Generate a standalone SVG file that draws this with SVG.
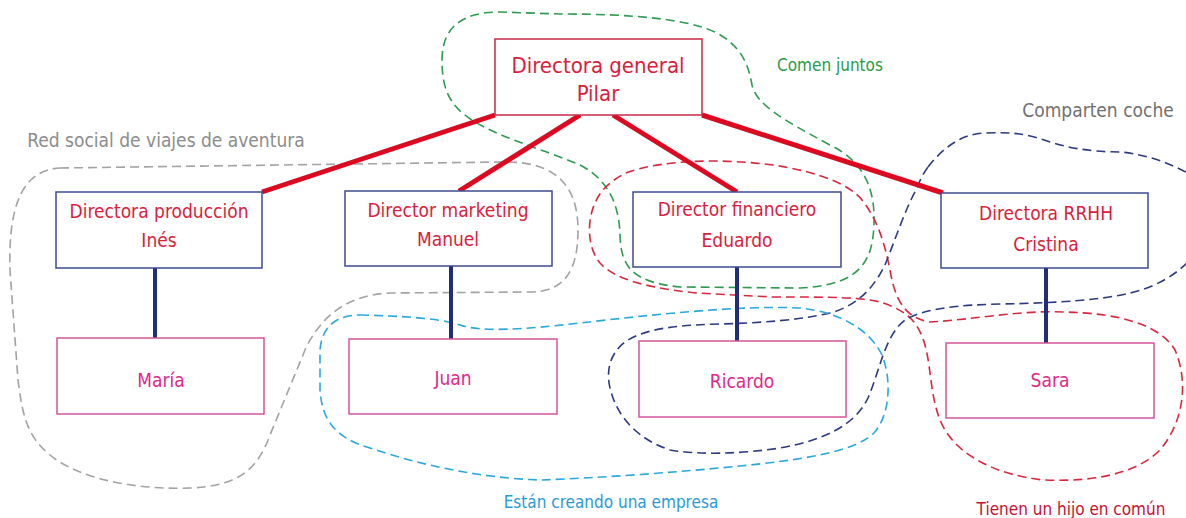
<svg xmlns="http://www.w3.org/2000/svg" width="1186" height="518" viewBox="0 0 1186 518">
<style>
text{font-family:"DejaVu Sans Condensed","Liberation Sans",sans-serif;text-anchor:middle}
.role{fill:#d81e3c;font-size:19px}
.top{fill:#d81e3c;font-size:22px}
.name{fill:#e0288a;font-size:19px}
.rbox{fill:#fff;stroke:#3d4b8e;stroke-width:1.5}
.pbox{fill:#fff;stroke:#d4559c;stroke-width:1.5}
.gbox{fill:#fff;stroke:#c82a48;stroke-width:1.5}
.red{stroke:#dc0a20;stroke-width:5;fill:none}
.navy{stroke:#1f2d7a;stroke-width:4;fill:none}
.grp{fill:none;stroke-width:1.6;stroke-dasharray:9 5}
</style>
<g id="groups">
<path class="grp" stroke="#a3a3a3" d="M60,168 L500,162 C560,160 578,190 578,230 C578,270 565,292 530,292 L390,293 C345,295 320,318 305,350 L270,435 C258,468 240,486 190,488 C140,490 80,480 50,455 C25,435 22,410 18,380 L10,270 C8,200 25,170 60,168 Z"/>
<path class="grp" stroke="#2f9a50" d="M442,60 C442,25 465,12 500,12 L560,14 C610,14 680,16 715,32 C740,45 748,62 752,85 C757,105 780,118 830,145 C865,162 875,190 874,223 C873,262 860,285 800,288 L680,287 C630,282 621,265 620,235 C619,200 605,178 580,165 C540,148 490,135 465,115 C445,100 442,80 442,60 Z"/>
<path class="grp" stroke="#d8283e" d="M626,173 C660,160 720,158 773,165 C820,172 850,185 862,200 C878,220 885,245 890,270 C895,300 905,318 930,322 C970,320 1020,310 1063,312 C1120,313 1160,325 1175,350 C1188,380 1185,420 1160,450 C1135,475 1090,482 1044,480 C995,475 960,455 945,430 C930,405 932,370 925,345 C918,320 905,310 880,302 C860,297 830,297 773,297 L696,293 C650,288 615,280 600,263 C585,245 586,210 603,190 C610,182 618,177 626,173 Z"/>
<path class="grp" stroke="#2e3a80" d="M928,167 C945,145 965,133 986,133 C1010,132 1025,133 1050,142 C1075,150 1100,152 1121,152 C1150,155 1175,165 1200,180 L1200,245 C1190,265 1165,285 1130,293 C1100,300 1060,303 1000,304 C960,305 925,308 905,320 C885,335 880,370 868,398 C855,425 825,440 780,448 C740,454 700,455 670,450 C640,440 620,420 612,395 C605,375 608,355 625,342 C645,328 680,325 720,324 C760,323 800,320 830,313 C860,305 875,285 885,265 C895,240 905,210 916,190 C920,180 924,172 928,167 Z"/>
<path class="grp" stroke="#2aa8dc" d="M360,315 C400,316 440,318 460,325 C480,332 520,330 580,323 C650,315 740,305 800,308 C840,312 870,330 882,355 C892,380 890,415 874,433 C855,452 800,460 740,466 C680,472 600,478 540,480 C480,478 420,465 370,448 C335,438 322,420 320,390 L320,350 C322,325 338,315 360,315 Z"/>
</g>
<g id="connectors">
<line class="red" x1="495" y1="115" x2="262" y2="192"/>
<line class="red" x1="580" y1="115" x2="459" y2="191"/>
<line class="red" x1="613" y1="115" x2="737" y2="192"/>
<line class="red" x1="702" y1="115" x2="943" y2="193"/>
<line class="navy" x1="155" y1="268" x2="155" y2="338"/>
<line class="navy" x1="451" y1="266" x2="451" y2="339"/>
<line class="navy" x1="737" y1="267" x2="737" y2="341"/>
<line class="navy" x1="1046" y1="268" x2="1046" y2="343"/>
</g>
<g id="pilar"><rect class="gbox" x="495" y="39" width="207" height="76"/><text class="top" x="598" y="73">Directora general</text><text class="top" x="598" y="101">Pilar</text></g>
<g id="ines"><rect class="rbox" x="56" y="192" width="206" height="76"/><text class="role" x="159" y="218">Directora producción</text><text class="role" x="159" y="247">Inés</text></g>
<g id="manuel"><rect class="rbox" x="345" y="191" width="207" height="75"/><text class="role" x="448" y="217">Director marketing</text><text class="role" x="448" y="246">Manuel</text></g>
<g id="eduardo"><rect class="rbox" x="633" y="192" width="208" height="75"/><text class="role" x="737" y="216">Director financiero</text><text class="role" x="737" y="247">Eduardo</text></g>
<g id="cristina"><rect class="rbox" x="941" y="193" width="207" height="75"/><text class="role" x="1046" y="220">Directora RRHH</text><text class="role" x="1046" y="251">Cristina</text></g>
<g id="maria"><rect class="pbox" x="57" y="338" width="207" height="76"/><text class="name" x="161" y="387">María</text></g>
<g id="juan"><rect class="pbox" x="349" y="339" width="208" height="75"/><text class="name" x="453" y="385">Juan</text></g>
<g id="ricardo"><rect class="pbox" x="639" y="341" width="207" height="76"/><text class="name" x="742" y="388">Ricardo</text></g>
<g id="sara"><rect class="pbox" x="946" y="343" width="208" height="75"/><text class="name" x="1050" y="387">Sara</text></g>
<g id="labels">
<text x="166" y="147" style="fill:#8c8c8c;font-size:19px">Red social de viajes de aventura</text>
<text x="1098" y="117" style="fill:#707070;font-size:19px">Comparten coche</text>
<text x="830" y="71" style="fill:#2a9a4a;font-size:17px">Comen juntos</text>
<text x="611" y="508" style="fill:#2a9ad2;font-size:17px">Están creando una empresa</text>
<text x="1071" y="515" style="fill:#c8102e;font-size:17px">Tienen un hijo en común</text>
</g>
</svg>
